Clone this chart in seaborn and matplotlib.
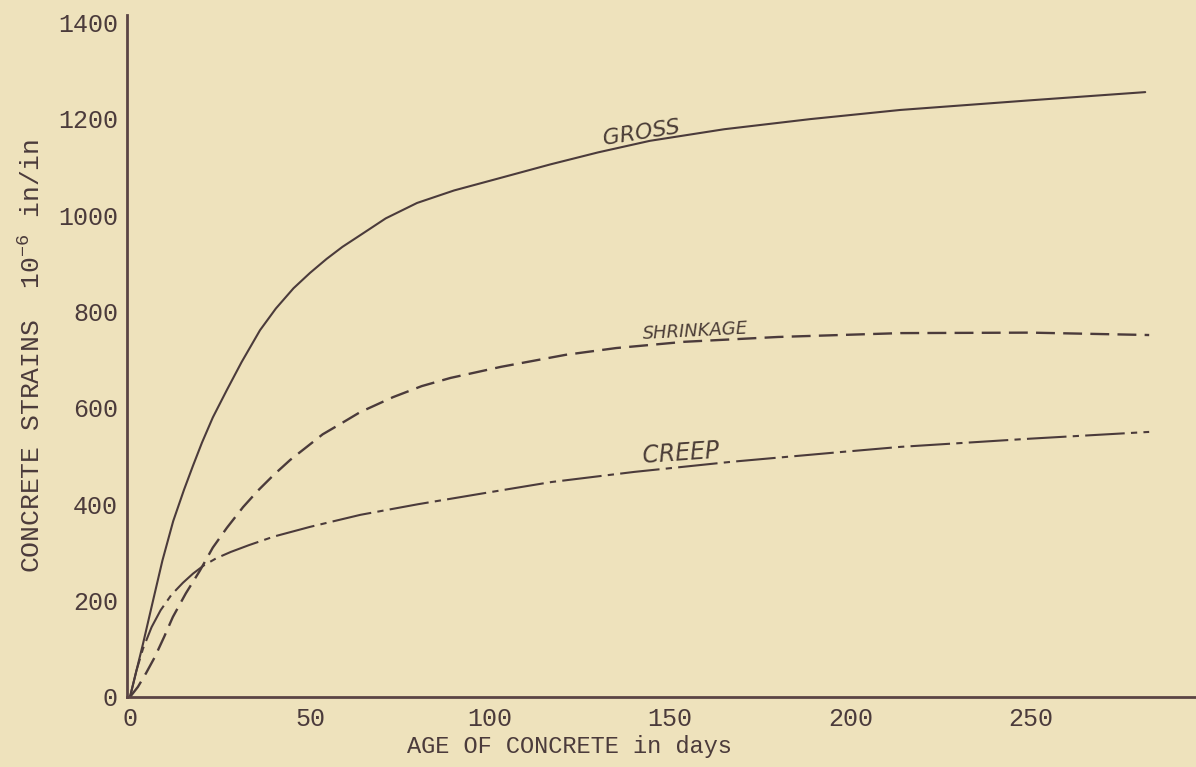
import pandas as pd
import matplotlib
matplotlib.use('Agg')
import matplotlib.pyplot as plt
import seaborn as sns

# ================= 数据 =================
gross_days = [0, 3.6, 6.4, 9, 12, 15, 17.5, 20, 23, 26.9, 31, 36.1, 40.5, 45.4, 50,
              54.6, 59, 63.9, 71, 79.7, 90, 100.9, 116.7, 130, 144.4, 165, 188.9,
              213.9, 250, 281.9]
gross_strain = [0, 110, 200, 283, 365, 430, 480, 528, 580, 637, 695, 761, 806, 848, 880,
                909, 934, 958, 993, 1025, 1051, 1073, 1105, 1130, 1154, 1178, 1199,
                1218, 1238, 1255]

shrink_days = [0, 2.2, 4.5, 6.9, 9.5, 11.9, 15.5, 19.4, 23, 26.9, 31.4, 35.5, 39.8,
               44.5, 49.1, 53.5, 58.3, 63.9, 73, 81, 89, 103, 121, 135, 154, 180,
               214, 250, 283]
shrink_strain = [0, 21, 50, 83, 125, 166, 215, 262, 310, 351, 394, 428, 460,
                 492, 519, 545, 566, 591, 622, 645, 662, 685, 710, 724, 737, 747,
                 755, 756, 751]

creep_days = [0, 1.8, 3.6, 6, 8.5, 11.5, 14.7, 17.5, 20.5, 24, 28, 33, 40, 50, 64,
              80, 100, 117, 140, 167, 197, 214, 250, 283]
creep_strain = [0, 55, 100, 145, 180, 212, 237, 256, 273, 288, 301, 315, 333, 353, 378,
                400, 425, 446, 467, 488, 508, 519, 536, 550]

x_ticks = [0, 50, 100, 150, 200, 250]
y_ticks = [0, 200, 400, 600, 800, 1000, 1200, 1400]

# ================= 样式 =================
bg = '#eee2bc'
ink = '#4b3b3b'
sns.set_style('white')
plt.rcParams['font.family'] = ['Liberation Mono', 'DejaVu Sans Mono']
plt.rcParams['mathtext.fontset'] = 'custom'
plt.rcParams['mathtext.rm'] = 'Liberation Mono'
plt.rcParams['mathtext.it'] = 'Liberation Mono'

fig = plt.figure(figsize=(11.96, 7.67), dpi=100, facecolor=bg)
ax = fig.add_axes([127 / 1196, 70 / 767, 1 - 127 / 1196, 682 / 767])
ax.set_facecolor(bg)

# ================= 曲线 =================
sns.lineplot(x=gross_days, y=gross_strain, ax=ax, color=ink, linewidth=1.5)
sns.lineplot(x=shrink_days, y=shrink_strain, ax=ax, color=ink, linewidth=1.7,
             linestyle=(0, (8, 3.5)))
sns.lineplot(x=creep_days, y=creep_strain, ax=ax, color=ink, linewidth=1.5,
             linestyle=(0, (19, 3, 3, 3)))

# 手写标注
hand = dict(family='DejaVu Sans', style='oblique', color='#4a3c36',
            ha='center', va='center', fontweight='light')
ax.text(142, 1170, 'GROSS', fontsize=16, rotation=9, **hand)
ax.text(157, 758, 'SHRINKAGE', fontsize=13, rotation=3, **hand)
ax.text(153, 505, 'CREEP', fontsize=17, rotation=4, **hand)

# ================= 坐标轴 =================
ax.set_xlim(-0.83, 296)
ax.set_ylim(0, 1415)
ax.set_xticks(x_ticks)
ax.set_yticks(y_ticks)
ax.tick_params(axis='y', direction='in', length=7, width=0.8, color=ink,
               pad=6.5, labelsize=18, labelcolor=ink)
ax.tick_params(axis='x', length=0, pad=7, labelsize=18, labelcolor=ink)

for side in ['top', 'right']:
    ax.spines[side].set_visible(False)
for side in ['left', 'bottom']:
    ax.spines[side].set_color('#5a4444')
    ax.spines[side].set_linewidth(2)

ax.set_xlabel('AGE OF CONCRETE in days', fontsize=17, color=ink)
ax.xaxis.label.set(ha='center', va='center')
ax.xaxis.set_label_coords(0.414, -0.073)

ax.set_ylabel(r'CONCRETE STRAINS  10$^{-6}$ in/in', fontsize=19, color=ink)
ax.yaxis.label.set(ha='center', va='center')
ax.yaxis.set_label_coords(-0.0888, 0.5)

ax.grid(False)

fig.savefig('out.png', dpi=100, facecolor=bg)
